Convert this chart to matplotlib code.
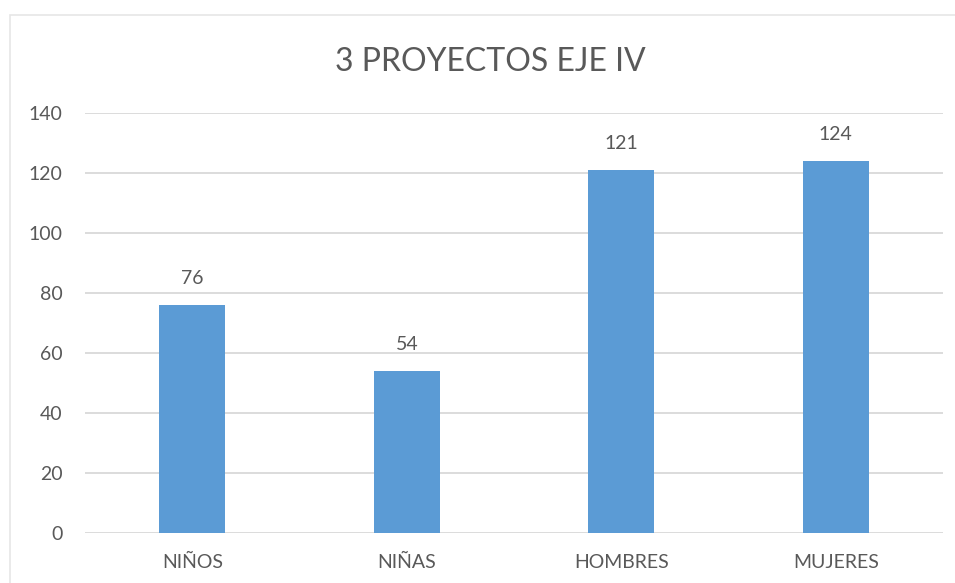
import matplotlib.pyplot as plt
from matplotlib.patches import Rectangle

categories = ["NIÑOS", "NIÑAS", "HOMBRES", "MUJERES"]
values = [76, 54, 121, 124]
y_ticks = [0, 20, 40, 60, 80, 100, 120, 140]

bar_color = "#5B9BD5"
text_color = "#595959"
grid_color = "#D9D9D9"

plt.rcParams["font.family"] = ["Lato", "DejaVu Sans"]

fig = plt.figure(figsize=(9.55, 5.83), dpi=100)
ax = fig.add_axes([85 / 955, 1 - 533 / 583, 858 / 955, 420 / 583])

# outer chart frame
fig.patches.append(Rectangle((10 / 955, -0.05), 1.0, 1 - 15 / 583 + 0.05,
                             transform=fig.transFigure, fill=False,
                             edgecolor="#E6E6E6", linewidth=1.2))

x = range(len(categories))
bars = ax.bar(x, values, width=0.31, color=bar_color, zorder=3)
for b, v in zip(bars, values):
    ax.annotate(str(v), (b.get_x() + b.get_width() / 2, v),
                xytext=(0, 18), textcoords="offset pixels",
                ha="center", va="bottom", fontsize=14, color=text_color)

ax.set_xlim(-0.5, len(categories) - 0.5)
ax.set_ylim(0, 140)
ax.set_yticks(y_ticks)
ax.set_xticks(list(x))
ax.set_xticklabels(categories)
ax.tick_params(axis="both", length=0, labelsize=14, labelcolor=text_color)
ax.tick_params(axis="y", pad=16)
ax.tick_params(axis="x", pad=15)
ax.yaxis.grid(True, color=grid_color, linewidth=1.3, zorder=0)
ax.set_axisbelow(True)
for s in ax.spines.values():
    s.set_visible(False)

fig.text(490 / 955, 1 - 62 / 583, "3 PROYECTOS EJE IV", ha="center",
         va="center", fontsize=23, color=text_color)

fig.savefig("out.png", dpi=100)
